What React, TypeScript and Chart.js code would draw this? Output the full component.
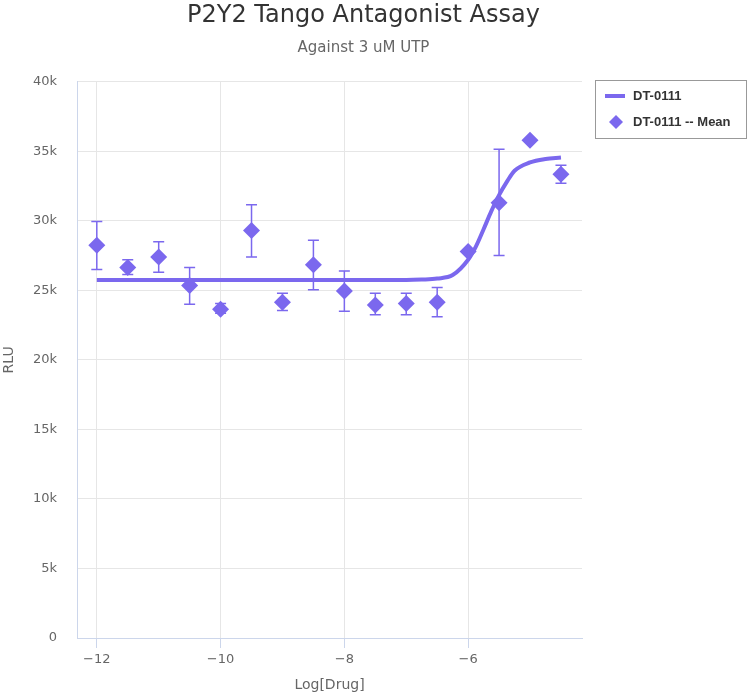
import React, { useEffect, useRef } from 'react';
import { Chart, registerables } from 'chart.js';

Chart.register(...registerables);

const titleText = 'P2Y2 Tango Antagonist Assay';
const subtitleText = 'Against 3 uM UTP';
const xTitle = 'Log[Drug]';
const yTitle = 'RLU';
const fitLabel = 'DT-0111';
const meanLabel = 'DT-0111 -- Mean';

// Mean points (log concentration, RLU) with error bar bounds
const meanX = [-12, -11.5, -11, -10.5, -10, -9.5, -9, -8.5, -8, -7.5, -7, -6.5, -6, -5.5, -5, -4.5];
const meanY = [28250, 26650, 27400, 25350, 23650, 29300, 24150, 26850, 24950, 23950, 24050, 24150, 27800, 31300, 35800, 33350];
const errLow = [26500, 26150, 26300, 24000, 23350, 27400, 23550, 25050, 23500, 23250, 23250, 23100, 27800, 27500, 35800, 32700];
const errHigh = [29950, 27200, 28500, 26650, 24050, 31150, 24800, 28600, 26400, 24800, 24800, 25200, 27800, 35150, 35800, 34000];

// Fitted curve
const curveX = [-12, -11, -10, -9, -8, -7, -6.75, -6.5, -6.25, -6, -5.875, -5.75, -5.625, -5.5, -5.375, -5.25, -5, -4.75, -4.5];
const curveY = [25750, 25750, 25750, 25750, 25750, 25750, 25780, 25850, 26100, 27200, 28150, 29400, 30700, 31850, 32800, 33600, 34200, 34450, 34550];

const yTicks = [0, 5000, 10000, 15000, 20000, 25000, 30000, 35000, 40000];
const xTicks = [-12, -10, -8, -6];

const COLOR = '#7b68ee';
const FONT = "'DejaVu Sans', sans-serif";

const errorBarPlugin = {
  id: 'errorBars',
  beforeDatasetsDraw(chart: any) {
    const { ctx, scales } = chart;
    const xs = scales.x;
    const ys = scales.y;
    ctx.save();
    ctx.strokeStyle = COLOR;
    ctx.lineWidth = 1.5;
    for (let i = 0; i < meanX.length; i++) {
      if (errHigh[i] === errLow[i]) continue;
      const x = xs.getPixelForValue(meanX[i]);
      const y1 = ys.getPixelForValue(errHigh[i]);
      const y2 = ys.getPixelForValue(errLow[i]);
      ctx.beginPath();
      ctx.moveTo(x, y1);
      ctx.lineTo(x, y2);
      ctx.moveTo(x - 5.5, y1);
      ctx.lineTo(x + 5.5, y1);
      ctx.moveTo(x - 5.5, y2);
      ctx.lineTo(x + 5.5, y2);
      ctx.stroke();
    }
    ctx.restore();
  },
};

const legendBoxPlugin = {
  id: 'legendBox',
  afterDraw(chart: any) {
    const { ctx } = chart;
    const ds = chart.data.datasets;
    ctx.save();
    ctx.strokeStyle = '#999999';
    ctx.lineWidth = 1;
    ctx.strokeRect(595.5, 80.5, 151, 58);
    ctx.font = "bold 13px 'Liberation Sans', Arial, sans-serif";
    ctx.fillStyle = '#333333';
    ctx.textBaseline = 'middle';
    ctx.textAlign = 'left';
    ctx.strokeStyle = COLOR;
    ctx.lineWidth = 4;
    ctx.beginPath();
    ctx.moveTo(605, 96);
    ctx.lineTo(625, 96);
    ctx.stroke();
    ctx.fillText(ds[0].label, 633, 96);
    ctx.fillStyle = COLOR;
    ctx.beginPath();
    const cx = 616, cy = 122, r = 7;
    ctx.moveTo(cx, cy - r);
    ctx.lineTo(cx + r, cy);
    ctx.lineTo(cx, cy + r);
    ctx.lineTo(cx - r, cy);
    ctx.closePath();
    ctx.fill();
    ctx.fillStyle = '#333333';
    ctx.fillText(ds[1].label, 633, 122);
    ctx.restore();
  },
};

export default function App() {
  const ref = useRef<HTMLCanvasElement | null>(null);

  useEffect(() => {
    document.body.style.margin = '0';
    const canvas = ref.current;
    if (!canvas) return;
    const chart = new Chart(canvas, {
      type: 'scatter',
      data: {
        datasets: [
          {
            label: fitLabel,
            data: curveX.map((x, i) => ({ x, y: curveY[i] })),
            showLine: true,
            borderColor: COLOR,
            backgroundColor: COLOR,
            borderWidth: 4,
            pointRadius: 0,
            cubicInterpolationMode: 'monotone',
            order: 2,
          },
          {
            label: meanLabel,
            data: meanX.map((x, i) => ({ x, y: meanY[i] })),
            showLine: false,
            pointStyle: 'rectRot',
            pointRadius: 8.5,
            borderWidth: 0,
            backgroundColor: COLOR,
            borderColor: COLOR,
            order: 1,
          },
        ],
      },
      options: {
        animation: false,
        responsive: false,
        layout: { padding: { left: 0, top: 0, bottom: 0, right: 22 } },
        plugins: {
          legend: { display: false },
          tooltip: { enabled: false },
          title: {
            display: true,
            text: titleText,
            color: '#333333',
            font: { family: FONT, size: 24, weight: 'normal' },
            padding: { top: 1, bottom: 0 },
          },
          subtitle: {
            display: true,
            text: subtitleText,
            color: '#666666',
            font: { family: FONT, size: 15, weight: 'normal' },
            padding: { top: 9, bottom: 25 },
          },
        },
        scales: {
          x: {
            type: 'linear',
            min: -12.32,
            max: -4.16,
            afterFit: (s: any) => { s.height = 58; },
            afterBuildTicks: (s: any) => { s.ticks = xTicks.map((v) => ({ value: v })); },
            ticks: {
              stepSize: 2,
              includeBounds: false,
              padding: 4,
              color: '#666666',
              font: { family: FONT, size: 13 },
              callback: (v: any) => String(v).replace('-', '\u2212'),
            },
            grid: { color: '#e6e6e6', tickColor: '#ccd6eb', tickLength: 10, drawTicks: true },
            border: { display: true, color: '#ccd6eb', width: 1 },
            title: {
              display: true,
              text: xTitle,
              color: '#666666',
              font: { family: FONT, size: 14 },
              padding: { top: 0, bottom: 2 },
            },
          },
          y: {
            type: 'linear',
            min: 0,
            max: 40000,
            afterFit: (s: any) => { s.width = 77; },
            afterBuildTicks: (s: any) => { s.ticks = yTicks.map((v) => ({ value: v })); },
            ticks: {
              stepSize: 5000,
              padding: 20,
              color: '#666666',
              font: { family: FONT, size: 13 },
              callback: (v: any) => (v === 0 ? '0' : `${v / 1000}k`),
            },
            grid: { color: '#e6e6e6', drawTicks: false },
            border: { display: true, color: '#ccd6eb', width: 1 },
            title: {
              display: true,
              text: yTitle,
              color: '#666666',
              font: { family: FONT, size: 14 },
              padding: { top: 1, bottom: 0 },
            },
          },
          legendSpace: {
            type: 'linear',
            position: 'right',
            display: true,
            min: 0,
            max: 1,
            afterFit: (s: any) => { s.width = 145; },
            ticks: { display: false },
            grid: { display: false, drawOnChartArea: false },
            border: { display: false },
          },
        },
      } as any,
      plugins: [errorBarPlugin, legendBoxPlugin],
    });
    return () => chart.destroy();
  }, []);

  return (
    <div style={{ width: 749, height: 696 }}>
      <canvas ref={ref} width={749} height={696} />
    </div>
  );
}
